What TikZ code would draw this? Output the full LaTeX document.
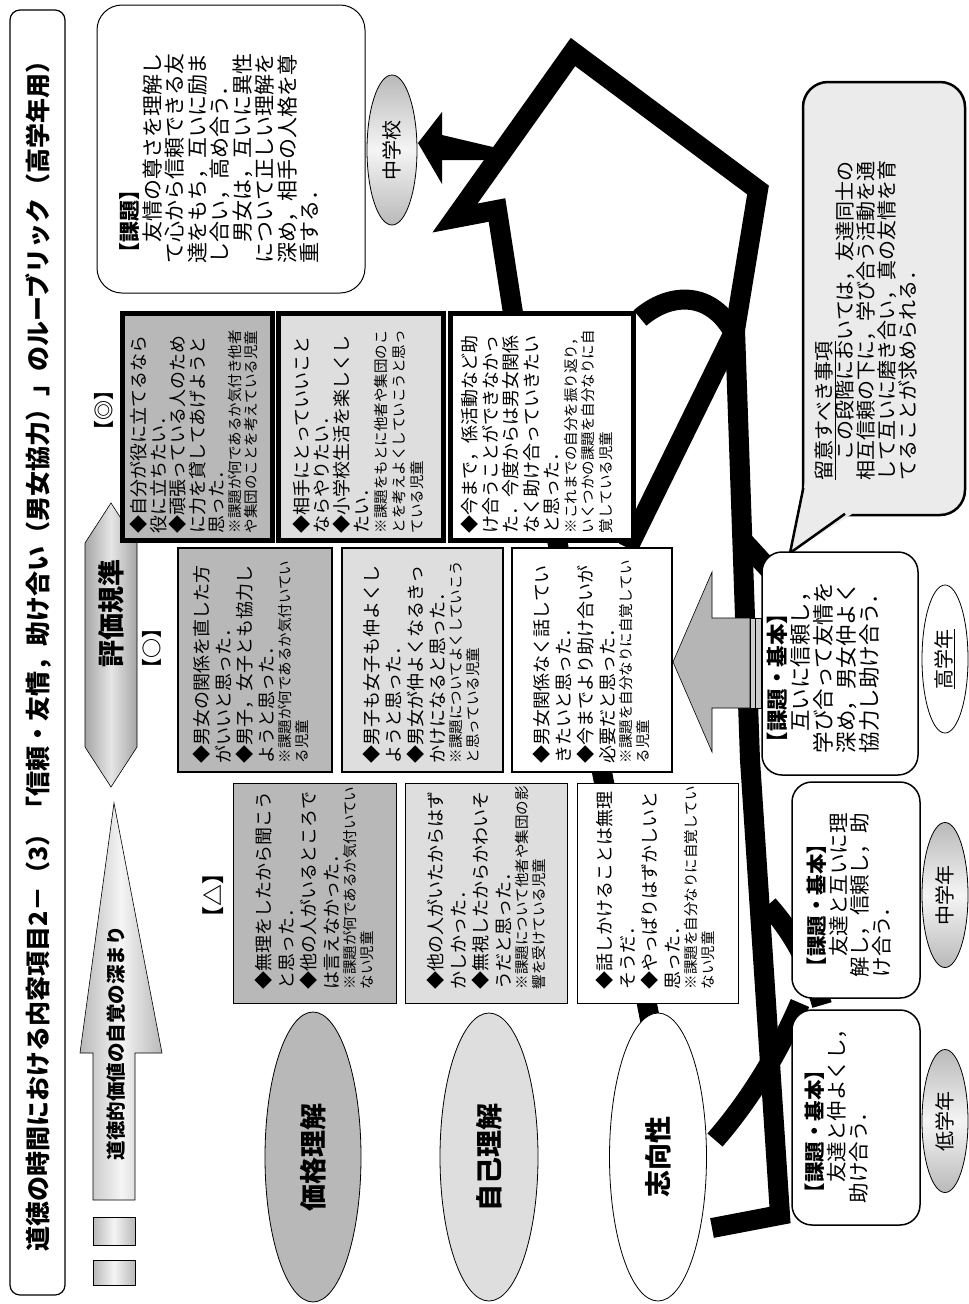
\documentclass[tikz,border=0pt]{standalone}
\usepackage{fontspec}
\setmainfont{Noto Sans CJK JP}
\usetikzlibrary{shapes.geometric,arrows.meta}
\definecolor{gA}{gray}{0.72}
\definecolor{gB}{gray}{0.87}
\definecolor{gC}{gray}{0.92}
\begin{document}
\begin{tikzpicture}[x=1pt,y=-1pt,
  every node/.style={inner sep=0pt, outer sep=0pt},
  shapebox/.style={draw=black, minimum width=#1},
  rtext/.style={rotate=90, anchor=north west, align=left, text width=#1},
  blk/.style={line width=20pt, black, line join=miter},
  gradell/.style={ellipse, draw=black, line width=0.8pt, top color=gray!55, bottom color=gray!55, middle color=gray!8},
]
\useasboundingbox (0,0) rectangle (969,1304);
\fill[white] (0,0) rectangle (969,1304);

% ---------- black path (behind everything) ----------
\draw[blk] (652,1030) -- (513,313) -- (497,210) -- (455,218) -- (573,52) -- (758,190) -- (735,330) -- (750,760) -- (780,1215) -- (712,1228);
\draw[blk] (628,548) -- (735,330);
\draw[blk] (640,318) .. controls (670,292) and (712,290) .. (735,335);
\draw[blk] (715,1140) .. controls (750,1100) and (780,1050) .. (800,1003);
\draw[blk] (768,905) .. controls (795,935) and (812,970) .. (822,1005);
\draw[blk] (742,540) .. controls (752,550) and (760,560) .. (772,572);
\coordinate (arrj) at (497,148);
\fill[black] (418,143) -- (442,112) -- (442,135) -- (arrj) -- (497,160) -- (442,160) -- (442,184) -- cycle;

% ---------- title ----------
\node[draw=black, line width=1.2pt, rounded corners=10pt, minimum width=55pt, minimum height=1285pt] (titlebox) at (37.5,652.5) {};
\node[rotate=90, font=\fontsize{25}{25}\selectfont\bfseries] (title) at (38,650) {道徳の時間における内容項目2－（3）「信頼・友情，助け合い（男女協力）」のルーブリック（高学年用）};

% ---------- left column ----------
\node[draw=black, line width=0.6pt, left color=gray!55, right color=gray!55, middle color=gray!8, minimum width=42pt, minimum height=28pt] (sq1) at (114,1231) {};
\node[draw=black, line width=0.6pt, left color=gray!55, right color=gray!55, middle color=gray!8, minimum width=42pt, minimum height=25pt] (sq2) at (114,1272.5) {};
\draw[line width=0.6pt, left color=gray!55, right color=gray!55, middle color=gray!8]
  (93,1200) -- (93,1053) -- (80,1053) -- (114,803) -- (162,1053) -- (135,1053) -- (135,1200) -- cycle;
\node[rotate=90, font=\fontsize{19.5}{20}\selectfont\bfseries] (deep) at (116,1043) {道徳的価値の自覚の深まり};

\draw[line width=0.6pt, left color=gray!70, right color=gray!70, middle color=gray!20]
  (111,503) -- (137,543) -- (137,747) -- (111,787) -- (85,747) -- (85,543) -- cycle;
\node[rotate=90, font=\fontsize{27}{27}\selectfont\bfseries] (kijun) at (111,613) {評価規準};

\node[rotate=90, font=\fontsize{20}{20}\selectfont\bfseries] (lbA) at (104,410) {【◎】};
\node[rotate=90, font=\fontsize{20}{20}\selectfont\bfseries] (lbB) at (152,648) {【○】};
\node[rotate=90, font=\fontsize{22}{22}\selectfont\bfseries] (lbC) at (213,895) {【△】};

% ---------- row ellipses ----------
\node[ellipse, draw=black, line width=0.8pt, fill=gA, minimum width=96pt, minimum height=290pt] (e1) at (313,1157) {};
\node[rotate=90, font=\fontsize{27}{27}\selectfont\bfseries] at (e1) {価格理解};
\node[ellipse, draw=black, line width=0.8pt, fill=gB, minimum width=98pt, minimum height=288pt] (e2) at (489,1157) {};
\node[rotate=90, font=\fontsize{27}{27}\selectfont\bfseries] at (e2) {自己理解};
\node[ellipse, draw=black, line width=0.8pt, fill=white, minimum width=97pt, minimum height=288pt] (e3) at (658,1157) {};
\node[rotate=90, font=\fontsize{27}{27}\selectfont\bfseries] at (e3) {志向性};

% ---------- triangle row (△) ----------
\node[shapebox=163pt, line width=0.8pt, fill=gA, minimum height=220pt] (t1) at (314.5,893) {};
\node[rtext=210pt] at (255,989) {{\fontsize{18}{22.5}\selectfont ◆無理をしたから聞こう\\と思った．\\◆他の人がいるところで\\は言えなかった．\par}{\fontsize{14.5}{17}\selectfont ※課題が何であるか気付いてい\\ない児童\par}};
\node[shapebox=162pt, line width=0.8pt, fill=gB, minimum height=220pt] (t2) at (486,893) {};
\node[rtext=210pt] at (427,989) {{\fontsize{18}{22.5}\selectfont ◆他の人がいたからはず\\かしかった．\\◆無視したからかわいそ\\うだと思った．\par}{\fontsize{14.5}{17}\selectfont ※課題について他者や集団の影\\響を受けている児童\par}};
\node[shapebox=161pt, line width=0.8pt, fill=white, minimum height=220pt] (t3) at (657.5,893) {};
\node[rtext=210pt] at (596,989) {{\fontsize{18}{22.5}\selectfont ◆話しかけることは無理\\そうだ．\\◆やっぱりはずかしいと\\思った．\par}{\fontsize{14.5}{17}\selectfont ※課題を自分なりに自覚してい\\ない児童\par}};

% ---------- circle row (○) ----------
\node[shapebox=154pt, line width=2.2pt, fill=gA, minimum height=224pt] (c1) at (255,660) {};
\node[rtext=215pt] at (193,763) {{\fontsize{18}{21.5}\selectfont ◆男女の関係を直した方\\がいいと思った．\\◆男子，女子とも協力し\\ようと思った．\par}{\fontsize{14.5}{17}\selectfont ※課題が何であるか気付いてい\\る児童\par}};
\node[shapebox=161pt, line width=2.2pt, fill=gB, minimum height=224pt] (c2) at (422.5,660) {};
\node[rtext=215pt] at (363,763) {{\fontsize{18}{22}\selectfont ◆男子も女子も仲よくし\\ようと思った．\\◆男女が仲よくなるきっ\\かけになると思った．\par}{\fontsize{14.5}{17}\selectfont ※課題についてよくしていこう\\と思っている児童\par}};
\node[shapebox=160pt, line width=2.2pt, fill=white, minimum height=224pt] (c3) at (592,660) {};
\node[rtext=215pt] at (533,763) {{\fontsize{18}{22}\selectfont ◆男女関係なく話してい\\きたいと思った．\\◆今までより助け合いが\\必要だと思った．\par}{\fontsize{14.5}{17}\selectfont ※課題を自分なりに自覚してい\\る児童\par}};

% ---------- double circle row (◎) ----------
\node[shapebox=150pt, line width=5pt, fill=gA, minimum height=227pt] (d1) at (197,426.5) {};
\node[rtext=220pt] at (130,533) {{\fontsize{18}{19.5}\selectfont ◆自分が役に立てるなら\\役に立ちたい．\\◆頑張っている人のため\\に力を貸してあげようと\\思った．\par}{\fontsize{14.5}{16.5}\selectfont ※課題が何であるか気付き他者\\や集団のことを考えている児童\par}};
\node[shapebox=165pt, line width=5pt, fill=gB, minimum height=227pt] (d2) at (360.5,426.5) {};
\node[rtext=220pt] at (293,533) {{\fontsize{18}{20}\selectfont ◆相手にとっていいこと\\ならやりたい．\\◆小学校生活を楽しくし\\たい．\par}{\fontsize{14.5}{18}\selectfont ※課題をもとに他者や集団のこ\\とを考えよくしていこうと思っ\\ている児童\par}};
\node[shapebox=183pt, line width=5pt, fill=white, minimum height=227pt] (d3) at (541.5,426.5) {};
\node[rtext=220pt] at (461,533) {{\fontsize{18}{20.5}\selectfont ◆今まで，係活動など助\\け合うことができなかっ\\た．今度からは男女関係\\なく助け合っていきたい\\と思った．\par}{\fontsize{14.5}{17.5}\selectfont ※これまでの自分を振り返り，\\いくつかの課題を自分なりに自\\覚している児童\par}};

% ---------- big gray arrow ----------
\draw[line width=0.6pt, fill=gray!58] (673,662) -- (712,572) -- (712,618) -- (750,618) -- (750,708) -- (712,708) -- (712,752) -- cycle;
\draw[line width=0.4pt, fill=gray!40] (750,618) rectangle (755.5,708);
\draw[line width=0.4pt, fill=gray!40] (755.5,618) rectangle (761,708);

% ---------- top task box ----------
\node[draw=black, line width=1pt, rounded corners=25pt, fill=white, minimum width=268pt, minimum height=288pt] (kadai) at (231,149) {};
\node[rtext=260pt, font=\fontsize{21}{22.5}\selectfont] at (120,263) {{\bfseries 【課題】}\\　友情の尊さを理解し\\て心から信頼できる友\\達をもち，互いに励ま\\し合い，高め合う．\\　男女は，互いに異性\\について正しい理解を\\深め，相手の人格を尊\\重する．};

\node[gradell, minimum width=50pt, minimum height=150pt] (jhs) at (392,150) {};
\node[rotate=90, font=\fontsize{20}{20}\selectfont] at (jhs) {中学校};

% ---------- callout ----------
\node[draw=black, line width=2.5pt, rounded corners=25pt, fill=gC, minimum width=162pt, minimum height=433pt] (note) at (884,298.5) {};
\fill[gC] (806,478) -- (790,553) -- (852,514) -- (832,480) -- cycle;
\draw[line width=2.5pt, line join=miter] (803.3,488) -- (790,553) -- (845,513.8);
\node[rtext=360pt, font=\fontsize{20}{21}\selectfont] at (815,480) {\underline{留意すべき事項}\\　この段階においては，友達同士の\\相互信頼の下に，学び合う活動を通\\して互いに磨き合い，真の友情を育\\てることが求められる．};

% ---------- grade boxes ----------
\node[draw=black, line width=1.5pt, rounded corners=20pt, fill=white, minimum width=156pt, minimum height=223pt] (high) at (840,663.5) {};
\node[rtext=215pt, font=\fontsize{21.5}{23}\selectfont] at (767,753) {{\bfseries 【課題・基本】}\\　互いに信頼し，\\学び合って友情を\\深め，男女仲よく\\協力し助け合う．};
\node[ellipse, draw=black, line width=0.8pt, fill=white, minimum width=46pt, minimum height=148pt] (highe) at (945,659) {};
\node[rotate=90, font=\fontsize{20}{20}\selectfont] at (highe) {\underline{高学年}};

\node[draw=black, line width=1.5pt, rounded corners=20pt, fill=white, minimum width=128pt, minimum height=216pt] (mid) at (856,890) {};
\node[rtext=210pt, font=\fontsize{20.5}{21.5}\selectfont] at (807,977) {{\bfseries 【課題・基本】}\\　友達と互いに理\\解し，信頼し，助\\け合う．};
\node[gradell, minimum width=46pt, minimum height=145pt] (mide) at (945,895) {};
\node[rotate=90, font=\fontsize{20}{20}\selectfont] at (mide) {中学年};

\node[draw=black, line width=1.5pt, rounded corners=20pt, fill=white, minimum width=128pt, minimum height=215pt] (low) at (856,1117.5) {};
\node[rtext=210pt, font=\fontsize{20.5}{22}\selectfont] at (805,1203) {{\bfseries 【課題・基本】}\\　友達と仲よくし，\\助け合う．};
\node[gradell, minimum width=46pt, minimum height=143pt] (lowe) at (945,1121) {};
\node[rotate=90, font=\fontsize{20}{20}\selectfont] at (lowe) {低学年};

\end{tikzpicture}
\end{document}
